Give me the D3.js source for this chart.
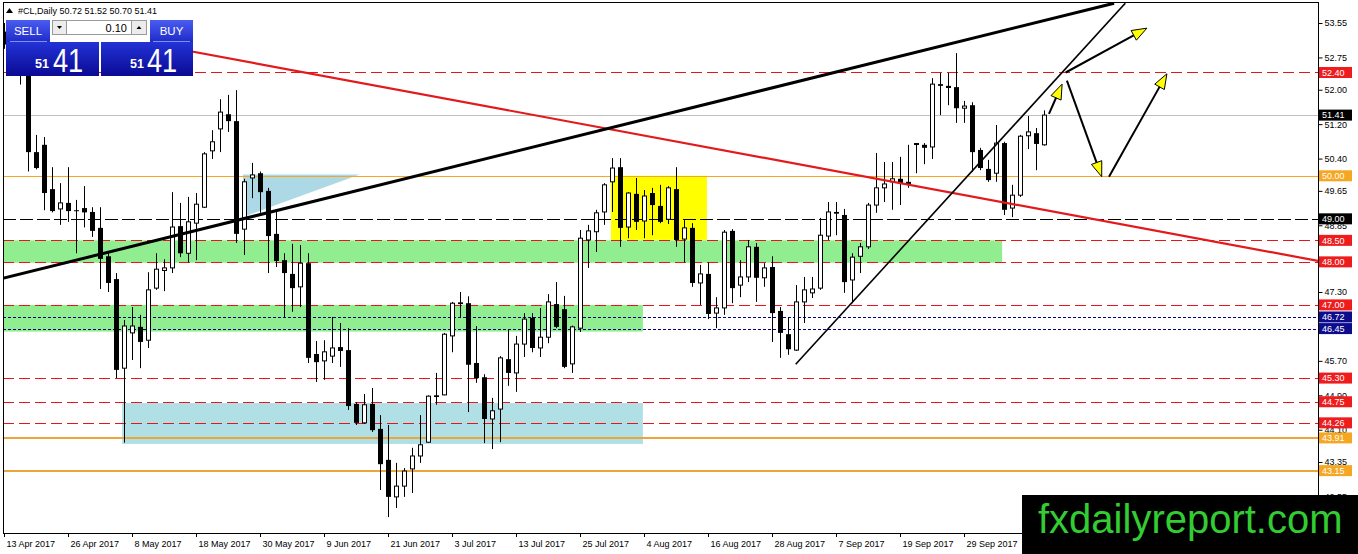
<!DOCTYPE html>
<html><head><meta charset="utf-8">
<script src="https://cdn.jsdelivr.net/npm/d3@7"></script>
<style>body{margin:0;background:#fff;overflow:hidden}svg{display:block;font-family:"Liberation Sans",Arial,sans-serif}</style>
</head><body><svg id="c" width="1358" height="554"></svg>
<script>
// ---------- DATA ----------
const symbol = "#CL,Daily";
const opens  = [53.35,53.05,52.65,52.33,50.55,50.72,49.69,49.23,49.37,49.20,49.25,49.16,48.79,48.13,47.60,45.53,46.35,46.49,46.18,47.39,
 47.80,47.86,48.83,48.20,48.90,49.27,50.58,51.09,51.43,51.27,48.76,49.95,50.06,49.65,48.65,48.04,47.72,47.42,47.97,45.86,
 45.70,45.81,46.02,45.95,44.70,44.26,44.70,44.12,43.40,42.54,42.79,43.19,43.49,43.81,44.90,44.91,46.28,47.06,47.04,45.65,
 45.32,44.35,44.58,45.74,45.42,46.09,46.70,46.00,46.25,47.02,46.90,45.63,46.46,48.51,48.70,49.16,49.86,50.20,48.81,49.58,
 48.95,49.60,49.30,48.99,49.69,48.53,48.79,47.51,47.72,46.81,46.93,48.72,47.46,47.65,48.35,47.63,47.88,46.86,46.32,45.95,
 47.07,47.28,47.39,48.60,49.16,49.09,47.58,48.13,48.35,49.32,49.72,49.86,49.93,49.86,50.73,50.72,50.67,52.13,52.09,52.06,
 51.57,51.64,50.60,50.16,50.06,50.76,49.25,49.55,50.93,50.99,50.72];
const highs  = [53.55,53.20,52.80,52.40,50.95,50.90,50.20,49.83,50.20,49.44,49.76,49.27,49.27,48.20,47.74,46.65,46.95,46.77,47.76,48.20,
 48.06,49.62,49.37,49.51,49.60,50.55,51.06,51.78,51.88,51.99,49.93,50.30,50.10,49.72,49.16,48.20,48.42,48.39,48.20,46.16,
 46.18,46.72,46.58,46.46,44.74,44.93,45.07,44.44,44.21,43.33,43.21,43.68,44.44,44.90,45.42,46.35,47.07,47.30,47.20,46.51,
 45.39,44.84,45.81,46.44,46.28,46.81,46.81,46.93,47.25,47.53,47.21,46.52,48.74,48.86,49.21,49.83,50.41,50.41,49.62,49.95,
 49.67,49.72,49.79,49.76,50.20,48.97,48.90,47.93,47.99,47.18,48.74,48.76,48.04,48.51,48.44,47.97,48.13,46.95,46.70,47.46,
 47.65,47.65,49.02,49.39,49.39,49.23,48.20,48.44,49.37,50.53,50.32,50.32,50.44,50.72,50.76,50.76,52.27,52.39,52.39,52.85,
 51.74,51.71,50.65,50.37,51.18,50.79,49.79,50.95,51.39,51.11,51.52];
const lows   = [52.95,52.55,52.12,50.10,50.15,49.20,49.15,48.86,48.93,48.20,48.80,48.58,47.37,47.30,45.30,43.80,45.72,45.53,46.00,47.35,
 47.32,47.74,48.11,47.99,48.04,49.25,50.39,50.55,51.02,48.44,48.16,49.48,49.14,47.74,47.88,46.72,46.84,46.95,45.65,45.21,
 45.26,45.65,45.56,44.56,44.21,44.24,44.05,42.70,42.07,42.28,42.54,42.63,43.33,43.80,44.68,44.90,45.90,46.72,44.51,45.19,
 43.79,43.65,43.81,45.12,44.98,45.79,45.90,45.79,46.11,46.46,45.53,45.42,46.37,47.86,48.23,48.86,49.16,48.35,48.55,48.74,
 48.55,48.62,48.90,48.88,48.35,47.99,47.42,47.00,46.67,46.46,46.77,47.04,47.18,47.53,47.07,47.42,46.14,45.77,45.84,45.93,
 46.58,47.16,47.35,48.51,48.62,47.28,47.04,47.74,48.30,49.14,49.39,49.21,49.32,49.72,50.06,50.27,50.39,51.41,51.64,51.23,
 51.23,50.09,50.13,49.86,49.86,49.09,49.04,49.51,50.62,50.13,50.70];
const closes = [53.05,52.65,52.35,50.55,50.18,49.60,49.18,49.37,49.18,49.19,49.15,48.72,48.07,47.51,45.49,46.51,46.51,46.14,47.35,47.83,
 47.86,48.81,48.20,48.93,49.34,50.51,50.79,51.48,51.27,48.65,49.86,50.02,49.62,48.60,48.02,47.74,47.39,47.97,45.77,45.67,
 45.91,46.00,45.93,44.65,44.26,44.68,44.09,43.30,42.54,42.79,43.14,43.49,43.75,44.88,44.86,46.32,47.04,47.02,45.61,45.30,
 44.35,44.54,45.77,45.42,46.09,46.67,46.00,46.25,47.07,46.49,45.56,46.49,48.55,48.72,49.14,49.79,50.18,48.79,49.60,48.93,
 49.53,49.32,48.93,49.72,48.51,48.79,47.51,47.72,46.79,46.93,48.69,47.39,47.65,48.35,47.63,47.86,46.81,46.35,45.97,47.07,
 47.35,47.37,48.62,49.16,49.12,47.53,48.11,48.35,49.32,49.72,49.81,49.93,49.83,49.81,50.75,50.65,52.13,52.09,52.04,51.57,
 51.62,50.55,50.18,49.90,50.76,49.21,49.55,50.92,51.02,50.74,51.41];

const yTickValues = [53.55,52.75,52.00,51.20,50.40,49.65,48.85,47.30,45.70,44.90,44.10,43.35,42.55];
const redLevels    = [52.40,48.50,48.00,47.00,45.30,44.75,44.26];
const blackLevels  = [49.00];
const navyLevels   = [46.72,46.45];
const orangeThin   = [50.00];
const orangeThick  = [43.91,43.15];
const lastPrice    = 51.41;

// zones: [fromBar, toBar, topPrice, bottomPrice]
const greenZones = [[-0.5,124.8,48.50,47.98],[-0.5,79.9,47.00,46.38]];
const blueZones  = [[14.8,79.9,44.72,43.77]];
const yellowZones= [[75.9,87.9,50.00,48.51]];
const blueTriangle = [[29.9,50.03],[44.5,50.03],[29.9,49.04]];
// trend lines: [[bar,price],[bar,price]]
const blackTrend = [[-0.5,47.60],[138.8,54.01]];
const redTrend   = [[20,53.01],[164.4,48.02]];
const thinTrend  = [[99.0,45.62],[140.2,54.01]];
// forecast arrows [[bar,price] start, [bar,price] tip]
const arrows = [
  [[130.66,51.44],[132.3,52.13]],
  [[132.75,52.40],[142.9,53.43]],
  [[132.9,52.21],[137.25,49.98]],
  [[138.16,49.98],[145.4,52.37]]
];

// trading-day categories (13 Apr 2017 .. 13 Oct 2017, holiday 14 Apr skipped)
const dates = [];
{ const d = new Date(2017,3,13);
  while (dates.length < opens.length) {
    const w = d.getDay();
    if (w !== 0 && w !== 6 && !(d.getMonth()===3 && d.getDate()===14)) dates.push(new Date(d));
    d.setDate(d.getDate()+1);
  } }

// ---------- SCALES ----------
const svg = d3.select("#c");
const x = d3.scaleLinear().domain([0,130]).range([3.7,1043.7]);
const y = d3.scaleLinear().domain([54.0844,41.7007]).range([0,533]);
const L = 3, R = 1318, B = 533, T = 3;
const defs = svg.append("defs");
defs.append("clipPath").attr("id","pc").append("rect")
  .attr("x",L).attr("y",T).attr("width",R-L).attr("height",B-T);
const plot = svg.append("g").attr("clip-path","url(#pc)");

// zones
function zone(z,color){
  plot.append("rect").attr("x",x(z[0])).attr("y",y(z[2]))
    .attr("width",x(z[1])-x(z[0])).attr("height",y(z[3])-y(z[2])).attr("fill",color);
}
greenZones.forEach(z=>zone(z,"#90ee90"));
blueZones.forEach(z=>zone(z,"#b0e0e6"));
yellowZones.forEach(z=>zone(z,"#ffff00"));
plot.append("polygon").attr("points",blueTriangle.map(p=>[x(p[0]),y(p[1])].join(",")).join(" "))
  .attr("fill","#add8e6");

// horizontal levels
function hline(p,color,w,dash){
  const yy = Math.round(y(p))+ (w%2?0.5:0);
  plot.append("line").attr("x1",L).attr("x2",R).attr("y1",yy).attr("y2",yy)
    .attr("stroke",color).attr("stroke-width",w).attr("stroke-dasharray",dash||null);
}
hline(lastPrice,"#c0c0c0",1);
redLevels.forEach(p=>hline(p,"#e8141b",1,"11,5"));
blackLevels.forEach(p=>hline(p,"#000",1,"13,4"));
navyLevels.forEach(p=>hline(p,"#000080",1,"3,2"));
orangeThin.forEach(p=>hline(p,"#f5a623",1));
orangeThick.forEach(p=>hline(p,"#eba53a",2));

// candles
const bars = d3.range(opens.length).map(i=>({i,o:opens[i],h:highs[i],l:lows[i],c:closes[i]}));
const cg = plot.append("g");
bars.forEach(b=>{
  const cx = Math.round(x(b.i))+0.5;
  cg.append("line").attr("x1",cx).attr("x2",cx).attr("y1",y(b.h)).attr("y2",y(b.l)).attr("stroke","#000").attr("stroke-width",1);
  const top = Math.min(y(b.o),y(b.c)), bot = Math.max(y(b.o),y(b.c));
  const up = b.c >= b.o;
  const hgt = Math.max(bot-top,1);
  if (up) {
    cg.append("rect").attr("x",cx-2).attr("y",top).attr("width",4).attr("height",hgt)
      .attr("fill","#fff").attr("stroke","#000").attr("stroke-width",1);
  } else {
    cg.append("rect").attr("x",cx-2.5).attr("y",top).attr("width",5).attr("height",hgt).attr("fill","#000");
  }
});

// trend lines
function tline(pts,color,w){
  plot.append("line").attr("x1",x(pts[0][0])).attr("y1",y(pts[0][1]))
    .attr("x2",x(pts[1][0])).attr("y2",y(pts[1][1])).attr("stroke",color).attr("stroke-width",w);
}
tline(redTrend,"#e31a1c",2.2);
tline(blackTrend,"#000",3);
tline(thinTrend,"#000",1.6);

// arrows
arrows.forEach(a=>{
  const x1=x(a[0][0]), y1=y(a[0][1]), x2=x(a[1][0]), y2=y(a[1][1]);
  const dx=x2-x1, dy=y2-y1, len=Math.hypot(dx,dy), ux=dx/len, uy=dy/len;
  const hl=15, hw=5.5, bx=x2-ux*hl, by=y2-uy*hl;
  svg.append("line").attr("x1",x1).attr("y1",y1).attr("x2",bx+ux*2).attr("y2",by+uy*2)
    .attr("stroke","#000").attr("stroke-width",2);
  svg.append("polygon").attr("points",[[x2,y2],[bx-uy*hw,by+ux*hw],[bx+uy*hw,by-ux*hw]].map(p=>p.join(",")).join(" "))
    .attr("fill","#ffff00").attr("stroke","#000").attr("stroke-width",1);
});

// frame
svg.append("rect").attr("x",L+0.5).attr("y",T-0.5).attr("width",R-L).attr("height",B-T+1)
  .attr("fill","none").attr("stroke","#000").attr("stroke-width",1);

// y axis
const yAxis = d3.axisRight(y).tickValues(yTickValues).tickFormat(d3.format(".2f")).tickSize(4).tickPadding(2);
const ya = svg.append("g").attr("transform",`translate(${R+0.5},0)`).call(yAxis);
ya.select(".domain").remove();
ya.selectAll("text").attr("font-size",9).attr("font-family","Liberation Sans, Arial, sans-serif").attr("fill","#000");
svg.append("line").attr("x1",R+0.5).attr("x2",R+0.5).attr("y1",T).attr("y2",554).attr("stroke","#000");

// x axis labels
const fmt = d3.timeFormat("%-d %b %Y");
const tickIdx = d3.range(0, opens.length, 8);
const xa = svg.append("g");
tickIdx.forEach(i=>{
  const xx = Math.round(x(i))+0.5;
  xa.append("line").attr("x1",xx).attr("x2",xx).attr("y1",B).attr("y2",B+4).attr("stroke","#000");
  xa.append("text").attr("x",xx+2).attr("y",B+14).attr("font-size",9).attr("fill","#000").text(fmt(dates[i]));
});

// price tags
function tag(p,color){
  const yc = y(p);
  svg.append("rect").attr("x",R+1).attr("y",yc-5.5).attr("width",33).attr("height",11).attr("fill",color);
  svg.append("text").attr("x",R+4).attr("y",yc+3.3).attr("font-size",9).attr("fill","#fff").text(p.toFixed(2));
}
redLevels.forEach(p=>tag(p,"#ee1c1c"));
navyLevels.forEach(p=>tag(p,"#0c0c8c"));
orangeThin.concat(orangeThick).forEach(p=>tag(p,"#f5a623"));
blackLevels.forEach(p=>tag(p,"#000"));
tag(lastPrice,"#000");

// ---------- header & trade panel ----------
const last = opens.length-1;
svg.append("polygon").attr("points","6,13 13,13 9.5,8").attr("fill","#000");
svg.append("text").attr("x",18).attr("y",14).attr("font-size",9).attr("fill","#000")
  .text(`${symbol}  ${opens[last].toFixed(2)} ${highs[last].toFixed(2)} ${lows[last].toFixed(2)} ${closes[last].toFixed(2)}`);

const g1 = defs.append("linearGradient").attr("id","gTop").attr("x1",0).attr("y1",0).attr("x2",0).attr("y2",1);
g1.append("stop").attr("offset","0").attr("stop-color","#4a5cf0");
g1.append("stop").attr("offset","1").attr("stop-color","#1e2cc8");
const g2 = defs.append("linearGradient").attr("id","gBot").attr("x1",0).attr("y1",0).attr("x2",0).attr("y2",1);
g2.append("stop").attr("offset","0").attr("stop-color","#2333d6");
g2.append("stop").attr("offset","1").attr("stop-color","#0a0a94");

const pan = svg.append("g");
pan.append("rect").attr("x",50).attr("y",20).attr("width",100).attr("height",22).attr("fill","#fff");
pan.append("rect").attr("x",6).attr("y",20).attr("width",44).attr("height",22).attr("fill","url(#gTop)");
pan.append("rect").attr("x",150).attr("y",20).attr("width",43).attr("height",22).attr("fill","url(#gTop)");
pan.append("text").attr("x",28).attr("y",35).attr("text-anchor","middle").attr("font-size",11.5).attr("fill","#fff").text("SELL");
pan.append("text").attr("x",171.5).attr("y",35).attr("text-anchor","middle").attr("font-size",11.5).attr("fill","#fff").text("BUY");
pan.append("line").attr("x1",10).attr("x2",47).attr("y1",41.5).attr("y2",41.5).attr("stroke","#8090f0");
pan.append("line").attr("x1",153).attr("x2",190).attr("y1",41.5).attr("y2",41.5).attr("stroke","#8090f0");
pan.append("rect").attr("x",52.5).attr("y",20.5).attr("width",14).attr("height",14).attr("fill","#ececec").attr("stroke","#9a9a9a");
pan.append("polygon").attr("points","57,26 62,26 59.5,29").attr("fill","#000");
pan.append("rect").attr("x",66.5).attr("y",20.5).attr("width",65).attr("height",14).attr("fill","#fff").attr("stroke","#9a9a9a");
pan.append("text").attr("x",127).attr("y",31.5).attr("text-anchor","end").attr("font-size",11).attr("fill","#000").text("0.10");
pan.append("rect").attr("x",131.5).attr("y",20.5).attr("width",15).attr("height",14).attr("fill","#ececec").attr("stroke","#9a9a9a");
pan.append("polygon").attr("points","136.5,29 141.5,29 139,26").attr("fill","#000");
pan.append("rect").attr("x",6).attr("y",42).attr("width",93).attr("height",34).attr("fill","url(#gBot)");
pan.append("rect").attr("x",101).attr("y",42).attr("width",92).attr("height",34).attr("fill","url(#gBot)");
const big = Math.floor(closes[last]), frac = Math.round((closes[last]-big)*100).toString().padStart(2,"0");
[[35,53],[130,147]].forEach(([sx,bx])=>{
  pan.append("text").attr("x",sx).attr("y",68).attr("font-size",12.5).attr("font-weight","bold").attr("fill","#fff").text(String(big));
  pan.append("text").attr("transform",`translate(${bx},72) scale(0.8,1)`).attr("font-size",34).attr("fill","#fff").text(frac);
});

// watermark
svg.append("rect").attr("x",1022).attr("y",495).attr("width",336).attr("height",59).attr("fill","#000");
svg.append("text").attr("x",1038).attr("y",533).attr("font-size",40).attr("fill","#33cc33").text("fxdailyreport.com");
</script></body></html>
